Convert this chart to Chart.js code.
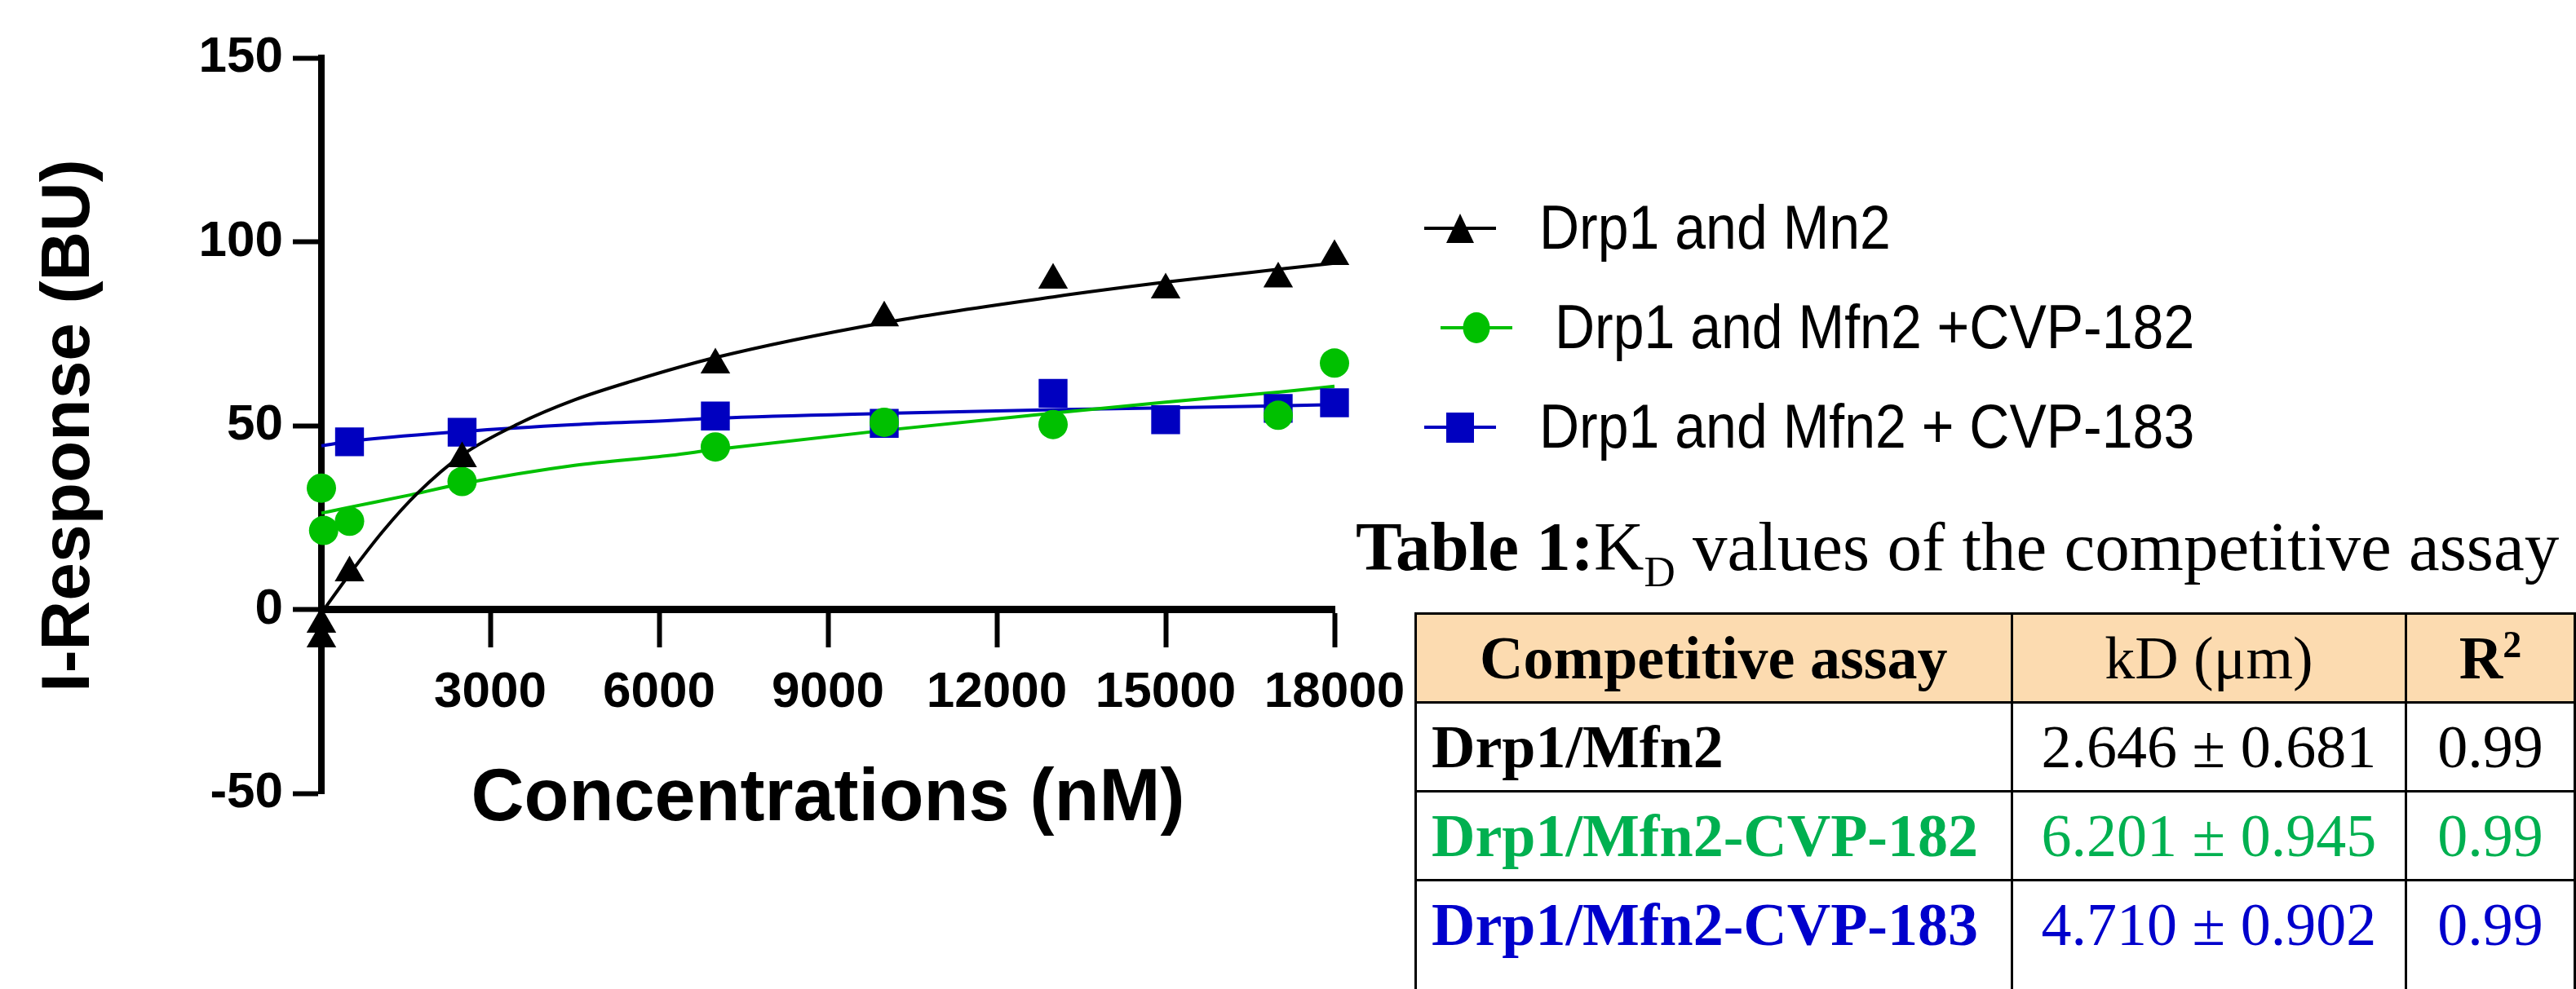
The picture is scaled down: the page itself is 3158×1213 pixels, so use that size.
<!DOCTYPE html>
<html>
<head>
<meta charset="utf-8">
<script src="https://cdn.jsdelivr.net/npm/chart.js"></script>
<style>
  html, body { margin: 0; padding: 0; background: #fff; }
  body { width: 3158px; height: 1213px; overflow: hidden; position: relative; }
  #chartBox { position: absolute; left: 0; top: 0; width: 1760px; height: 1213px; }
  .leg { position: absolute; font-family: "Liberation Sans", Arial, sans-serif; font-size: 68px; line-height: 70px; color: #000; white-space: pre; transform: scaleY(1.12); transform-origin: 0 59px; }
  #legMarks { position: absolute; left: 1740px; top: 240px; }
  #tblTitle { position: absolute; left: 1662px; top: 620px; font-family: "Liberation Serif", "Times New Roman", serif; font-size: 85px; line-height: 100px; white-space: nowrap; color: #000; }
  #tblTitle sub { font-size: 53px; vertical-align: -20px; line-height: 0; }
  table { position: absolute; left: 1734px; top: 751px; border-collapse: collapse; font-family: "Liberation Serif", "Times New Roman", serif; font-size: 74px; }
  td, th { border: 3px solid #000; padding: 0; text-align: center; vertical-align: middle; white-space: nowrap; }
  th { background: #fcdbb0; height: 106px; }
  th.norm { font-weight: normal; }
  th sup { font-size: 46px; vertical-align: 26px; line-height: 0; }
  td { height: 106px; }
  td.name { text-align: left; padding-left: 18px; font-weight: bold; }
  tr.last td { height: 160px; vertical-align: top; padding-top: 11px; }
  tr.last td.name { padding-left: 18px; }
</style>
</head>
<body>
<div id="chartBox"><canvas id="cv" width="1760" height="1213"></canvas></div>

<svg id="legMarks" width="140" height="330">
  <line x1="6" y1="40" x2="94" y2="40" stroke="#000" stroke-width="4"/>
  <polygon points="50,22 33,58 67,58" fill="#000"/>
  <line x1="26" y1="162" x2="114" y2="162" stroke="#00c000" stroke-width="4"/>
  <ellipse cx="70" cy="162" rx="16.5" ry="19" fill="#00c000"/>
  <line x1="6" y1="284" x2="94" y2="284" stroke="#0000c0" stroke-width="4"/>
  <rect x="33" y="266" width="34" height="37" fill="#0000c0"/>
</svg>
<div class="leg" style="left:1887px; top:246px;">Drp1 and Mn2</div>
<div class="leg" style="left:1887px; top:368px;"> Drp1 and Mfn2 +CVP-182</div>
<div class="leg" style="left:1887px; top:490px;">Drp1 and Mfn2 + CVP-183</div>

<div id="tblTitle"><b>Table 1:</b>K<sub>D</sub> values of the competitive assay</div>

<table>
  <tr>
    <th style="width:732px">Competitive assay</th>
    <th class="norm" style="width:488px">kD (μm)</th>
    <th style="width:212px">R<sup>2</sup></th>
  </tr>
  <tr style="color:#000">
    <td class="name">Drp1/Mfn2</td><td>2.646 ± 0.681</td><td>0.99</td>
  </tr>
  <tr style="color:#00b050">
    <td class="name">Drp1/Mfn2-CVP-182</td><td>6.201 ± 0.945</td><td>0.99</td>
  </tr>
  <tr class="last" style="color:#0000cc">
    <td class="name">Drp1/Mfn2-CVP-183</td><td>4.710 ± 0.902</td><td>0.99</td>
  </tr>
</table>

<script>
// measured points (concentration in nM, response in BU)
const mn2X = [0, 0, 500, 2500, 7000, 10000, 13000, 15000, 17000, 18000];
const mn2Y = [-4, -8, 10, 41, 66.5, 79.3, 89.6, 86.9, 89.9, 96];

const cvp182X = [0, 40, 500, 2500, 7000, 10000, 13000, 17000, 18000];
const cvp182Y = [33, 21.5, 24, 34.8, 44.2, 50.9, 50.3, 52.8, 67];

const cvp183X = [500, 2500, 7000, 10000, 13000, 15000, 17000, 18000];
const cvp183Y = [45.6, 48.2, 52.6, 50.6, 58.8, 51.6, 54.7, 56.2];

// fitted curves
const mn2FitX = [0, 500, 1100, 1700, 2500, 3500, 4500, 5500, 7000, 10000, 13000, 15000, 17000, 18000];
const mn2FitY = [-1, 9.6, 21.4, 31.5, 42, 50.5, 57, 62, 68.5, 78, 85, 89, 92.5, 94.2];

const cvp182FitX = [0, 500, 1500, 2500, 4500, 6200, 7000, 10000, 13000, 15000, 17000, 18000];
const cvp182FitY = [26.2, 27.8, 30.9, 34.2, 39.2, 41.9, 43.5, 48.7, 53.4, 56.4, 59.1, 60.7];

const cvp183FitX = [0, 500, 2500, 4500, 6200, 7000, 10000, 13000, 15000, 18000];
const cvp183FitY = [44.5, 45.7, 48.4, 50.3, 51.4, 52.0, 53.3, 54.3, 54.8, 55.7];

const xTicks = [0, 3000, 6000, 9000, 12000, 15000, 18000];
const yTicks = [-50, 0, 50, 100, 150];

const BLACK = "#000000", GREEN = "#00c000", BLUE = "#0000c0";
const SANS = '"Liberation Sans", Arial, sans-serif';

function pairs(xs, ys) {
  return xs.map((x, i) => ({ x: x, y: ys[i] }));
}

function fitSet(xs, ys, color) {
  return {
    data: pairs(xs, ys),
    showLine: true,
    borderColor: color,
    borderWidth: 4,
    pointRadius: 0,
    cubicInterpolationMode: "monotone",
    clip: false,
    order: 2
  };
}

function pointSet(xs, ys, color, style, radius) {
  return {
    data: pairs(xs, ys),
    showLine: false,
    pointStyle: style,
    pointRadius: radius,
    backgroundColor: color,
    borderColor: color,
    borderWidth: 0,
    clip: false,
    order: 1
  };
}

const datasets = [
  fitSet(mn2FitX, mn2FitY, BLACK),
  fitSet(cvp182FitX, cvp182FitY, GREEN),
  fitSet(cvp183FitX, cvp183FitY, BLUE),
  pointSet(mn2X, mn2Y, BLACK, "triangle", 21),
  pointSet(cvp182X, cvp182Y, GREEN, "circle", 18),
  pointSet(cvp183X, cvp183Y, BLUE, "rect", 25)
];

new Chart(document.getElementById("cv").getContext("2d"), {
  type: "scatter",
  data: { datasets },
  options: {
    responsive: false,
    animation: false,
    devicePixelRatio: 1,
    layout: { padding: { left: 0, top: 71, right: 124, bottom: 240 } },
    plugins: { legend: { display: false }, tooltip: { enabled: false } },
    scales: {
      x: {
        type: "linear",
        position: { y: 0 },
        min: xTicks[0],
        max: xTicks[xTicks.length - 1],
        border: { color: BLACK, width: 9 },
        grid: { drawOnChartArea: false, drawTicks: true, tickLength: 42, tickWidth: 6, tickColor: BLACK },
        afterBuildTicks: s => { s.ticks = xTicks.map(v => ({ value: v })); },
        ticks: {
          autoSkip: false, maxRotation: 0, padding: 23, color: BLACK,
          font: { family: SANS, size: 62, weight: "bold" },
          callback: v => (v === 0 ? "" : String(v))
        },
        title: {
          display: true, text: "Concentrations (nM)", color: BLACK, padding: 0,
          font: { family: SANS, size: 90, weight: "bold" }
        },
        afterFit: s => { s.height = 288; }
      },
      y: {
        type: "linear",
        position: "left",
        min: yTicks[0],
        max: yTicks[yTicks.length - 1],
        border: { color: BLACK, width: 8 },
        grid: { drawOnChartArea: false, drawTicks: true, tickLength: 35, tickWidth: 6, tickColor: BLACK },
        afterBuildTicks: s => { s.ticks = yTicks.map(v => ({ value: v })); },
        ticks: {
          padding: 12, color: BLACK,
          font: { family: SANS, size: 62, weight: "bold" },
          callback: v => String(v)
        },
        title: {
          display: true, text: "I-Response (BU)", color: BLACK,
          padding: { top: 35, bottom: 0 },
          font: { family: SANS, size: 84, weight: "bold" }
        },
        afterFit: s => { s.width = 394; }
      }
    }
  }
});
</script>
</body>
</html>
